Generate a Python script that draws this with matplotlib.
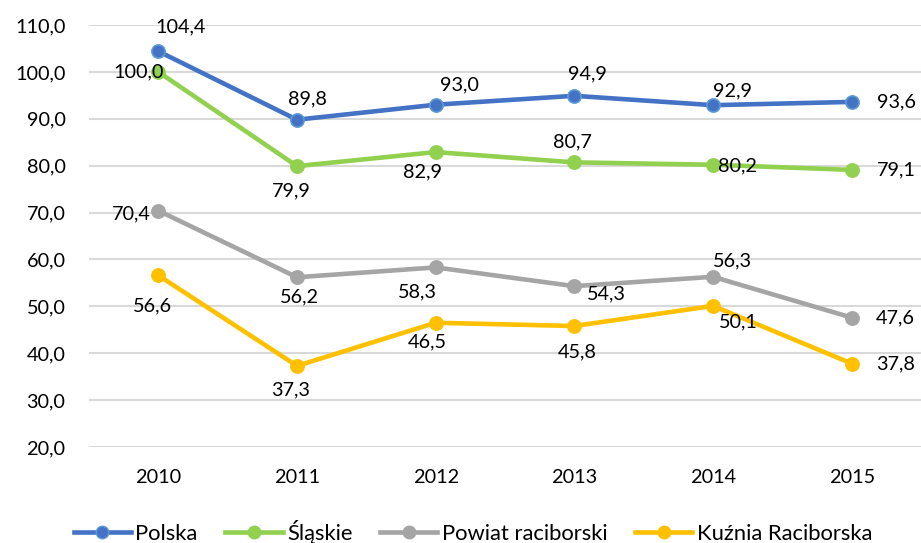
import matplotlib
matplotlib.use("Agg")
import matplotlib.pyplot as plt
from matplotlib.lines import Line2D

years = ["2010", "2011", "2012", "2013", "2014", "2015"]
polska = [104.4, 89.8, 93.0, 94.9, 92.9, 93.6]
slaskie = [100.0, 79.9, 82.9, 80.7, 80.2, 79.1]
powiat = [70.4, 56.2, 58.3, 54.3, 56.3, 47.6]
kuznia = [56.6, 37.3, 46.5, 45.8, 50.1, 37.8]
series_names = ["Polska", "Śląskie", "Powiat raciborski", "Kuźnia Raciborska"]
y_ticks = [20, 30, 40, 50, 60, 70, 80, 90, 100, 110]

colors = ["#4472C4", "#92D050", "#A5A5A5", "#FFC000"]
edge_colors = ["#5B9BD5", "#92D050", "#A5A5A5", "#FFC000"]
# label offsets (pixels, dx, dy up)
offsets = [
    [(22, 24), (10, 21), (24, 20), (13, 22), (19, 14), (45, 0)],
    [(-20, 0), (-6, -25), (-13, -20), (-2, 21), (24, -1), (45, 0)],
    [(-27, -3), (2, -20), (-18, -24), (32, -8), (19, 16), (44, 0)],
    [(-6, -30), (-6, -24), (-8, -19), (3, -26), (25, -16), (44, 0)],
]

FONT = ["Lato", "DejaVu Sans"]
plt.rcParams["font.family"] = FONT
FS = 14.3

fig = plt.figure(figsize=(9.21, 5.43), dpi=100)
ax = fig.add_axes([89 / 921, 1 - 447 / 543, 832 / 921, 422 / 543])

x = list(range(len(years)))
data = [polska, slaskie, powiat, kuznia]
for i, (vals, name) in enumerate(zip(data, series_names)):
    ax.plot(x, vals, color=colors[i], lw=3.3, marker="o", ms=9.5,
            markerfacecolor=colors[i], markeredgecolor=edge_colors[i],
            markeredgewidth=1.2, solid_capstyle="round", zorder=3 + (3 - i))
    for j, v in enumerate(vals):
        dx, dy = offsets[i][j]
        ax.annotate(f"{v:.1f}".replace(".", ","), (j, v), xytext=(dx, dy),
                    textcoords="offset pixels", ha="center", va="center",
                    fontsize=FS, color="#000000", zorder=10)

ax.set_xlim(-0.5, 5.5)
ax.set_ylim(20, 110)
ax.set_yticks(y_ticks)
ax.set_yticklabels([f"{t:.1f}".replace(".", ",") for t in y_ticks])
ax.set_xticks(x)
ax.set_xticklabels(years)
ax.tick_params(axis="both", length=0, labelsize=FS, colors="#000000")
ax.tick_params(axis="x", pad=16)
ax.tick_params(axis="y", pad=17)
ax.grid(axis="y", color="#D9D9D9", lw=1.5)
ax.set_axisbelow(True)
for s in ax.spines.values():
    s.set_visible(False)

handles = [Line2D([], [], color=colors[i], lw=3.3, marker="o", ms=9,
                  markerfacecolor=colors[i], markeredgecolor=edge_colors[i])
           for i in range(4)]
leg = fig.legend(handles, series_names, loc="center", ncol=4,
                 bbox_to_anchor=(473 / 921, 1 - 532 / 543), frameon=False,
                 fontsize=15.8, handlelength=2.6, handletextpad=0.2,
                 columnspacing=1.27, borderpad=0, borderaxespad=0)

fig.savefig("out.png", dpi=100)
